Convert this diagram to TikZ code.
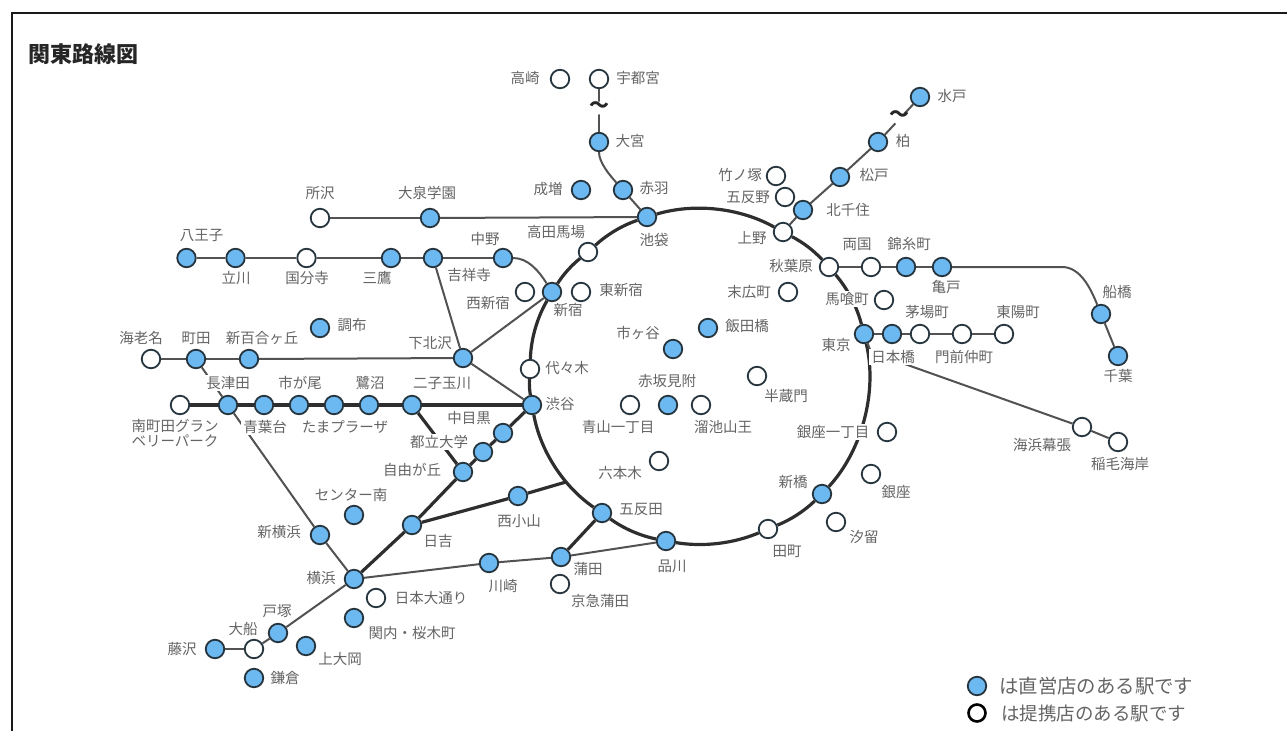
\documentclass[tikz,border=0pt]{standalone}
\usepackage{fontspec}
\setmainfont{Noto Sans CJK JP}
\usetikzlibrary{backgrounds}
\definecolor{stblue}{RGB}{108,184,240}
\definecolor{stline}{RGB}{38,52,62}
\definecolor{lbl}{RGB}{100,100,100}
\tikzset{
  stbase/.style={circle,draw=stline,line width=1.8pt,minimum size=18.5pt,inner sep=0pt},
  bst/.style={stbase,fill=stblue},
  wst/.style={stbase,fill=white},
  lb/.style={text=lbl,inner sep=1pt,font=\fontsize{14.5}{16}\selectfont},
  lbw/.style={lb,fill=white,inner xsep=2pt,inner ysep=1pt},
  thin line/.style={draw=black!68,line width=2pt},
  thick line/.style={draw=black!82,line width=3.2pt},
  wave/.style={inner sep=0pt,text height=7pt,text depth=1pt,font=\fontsize{20}{20}\selectfont\bfseries,text=black!85},
  wavegap/.style={circle,fill=white,minimum size=13pt,inner sep=0pt},
}
\begin{document}
\begin{tikzpicture}[x=1pt,y=-1pt]
\useasboundingbox (0,0) rectangle (1287,731);
\coordinate (fa) at (12,731);
\coordinate (fb) at (12,13);
\coordinate (fc) at (1287,13);
\draw[black!90,line width=2pt] (fa) -- (fb) -- (fc);
\node[anchor=center,inner sep=0pt,font=\fontsize{22}{24}\selectfont\bfseries,text=black!85] (title) at (83,54) {関東路線図};

% blue stations
\foreach \n/\x/\y in {hachioji/186.5/258,tachikawa/235.5/258,mitaka/391/258,kichijoji/433/258,nakano/503/258,
  oizumi/430/218,chofu/320/328,machida/196/359,shinyuri/249/359,shimokita/463/358,
  nagatsuta/228/405,aoba/264/405,ichigao/299/405,tama/334/405,sagi/369/405,futako/412/405,
  shibuya/532/405,nakame/503/433,toritsu/483/452,jiyu/463/472,hiyoshi/412/525,nishikoyama/518/496,
  shinyoko/320/535,center/354/515,yokohama/354/579,kawasaki/489/563,kannai/354/618,totsuka/278/633,
  kamiooka/306/646,fujisawa/215/649,kamakura/254/678,kamata/561/557,gotanda/602/513,shinagawa/666/541,
  shimbashi/822/494,tokyo/864/334,nihombashi/892/334,ichigaya/673/349,iidabashi/708/328,akasaka/668/405,
  shinjuku/552/292,ikebukuro/647/217,akabane/623/190,narimasu/581/190,omiya/599/142,
  kitasenju/803/210,matsudo/840/177,kashiwa/878/142,mito/920/97,kinshicho/906/267,kameido/942/267,
  funabashi/1101/314,chiba/1118/356}
  \node[bst] (\n) at (\x,\y) {};
% white stations
\foreach \n/\x/\y in {kokubunji/306.5/258,tokorozawa/320/218,ebina/151/359,minamimachida/180/405,
  takadanobaba/588/252,nishishinjuku/525/292,higashishinjuku/581/292,yoyogi/530/369,
  takasaki/560/79,utsunomiya/599/79,takenotsuka/776/176,gotanno/785/197,ueno/783/232,akihabara/829/267,
  suehirocho/788/292,ryogoku/871/267,bakurocho/884/300,kayabacho/920/334,monzen/962/334,toyocho/1004/334,
  makuhari/1082/427,inage/1118/442,hanzomon/757/376,aoyama/630/405,tameike/701/405,roppongi/659/461,
  ginza1/887/432,ginza/871/474,shiodome/836/522,tamachi/768/529,keikyu/560/584,nihonodori/376/598,ofuna/254/649}
  \node[wst] (\n) at (\x,\y) {};

\coordinate (ringjoin) at (566,482);
\coordinate (keiyobend) at (871,352);

\begin{scope}[on background layer]
  % ring
  \foreach \a/\b/\t in {ikebukuro/ueno/23,ueno/akihabara/9.75,akihabara/tokyo/12.85,tokyo/shimbashi/28,
    shimbashi/tamachi/10.7,tamachi/shinagawa/16,shinagawa/gotanda/12,gotanda/shibuya/22.6,
    shibuya/yoyogi/6.2,yoyogi/shinjuku/14,shinjuku/takadanobaba/9,takadanobaba/ikebukuro/11.8}
    \draw[thick line] (\a) to[bend left=\t,looseness=0.85] (\b);
  % thick straight lines
  \foreach \a/\b in {minamimachida/nagatsuta,nagatsuta/aoba,aoba/ichigao,ichigao/tama,tama/sagi,sagi/futako,futako/shibuya,
    futako/jiyu,shibuya/nakame,nakame/toritsu,toritsu/jiyu,jiyu/hiyoshi,hiyoshi/yokohama,
    hiyoshi/nishikoyama,nishikoyama/ringjoin,gotanda/kamata}
    \draw[thick line] (\a) -- (\b);
  % thin straight lines
  \foreach \a/\b in {hachioji/tachikawa,tachikawa/kokubunji,kokubunji/mitaka,mitaka/kichijoji,kichijoji/nakano,
    kichijoji/shimokita,shimokita/shinjuku,shimokita/shibuya,ebina/machida,machida/shinyuri,shinyuri/shimokita,
    tokorozawa/oizumi,oizumi/ikebukuro,machida/nagatsuta,nagatsuta/shinyoko,shinyoko/yokohama,
    yokohama/kawasaki,kawasaki/kamata,kamata/shinagawa,yokohama/totsuka,totsuka/ofuna,ofuna/fujisawa,
    utsunomiya/omiya,akabane/ikebukuro,ueno/kitasenju,kitasenju/matsudo,matsudo/kashiwa,kashiwa/mito,
    akihabara/ryogoku,ryogoku/kinshicho,kinshicho/kameido,funabashi/chiba,
    tokyo/nihombashi,nihombashi/kayabacho,kayabacho/monzen,monzen/toyocho,
    tokyo/keiyobend,keiyobend/makuhari,makuhari/inage}
    \draw[thin line] (\a) -- (\b);
  \draw[thin line] (nakano) to[out=0,in=122,looseness=0.9] (shinjuku);
  \draw[thin line] (omiya) to[out=-90,in=132,looseness=0.75] (akabane);
  \draw[thin line] (kameido) -- (1062,267) to[out=0,in=112,looseness=0.9] (funabashi);
\end{scope}

\node[wavegap] (gap1) at (599,108) {};
\node[wavegap] (gap2) at (899,118) {};
\node[wave] (wave1) at (599,109) {〜};
\node[wave] (wave2) at (899,118) {〜};

% labels
\foreach \n/\x/\y/\t in {l1/201.5/235/八王子,l2/236/278/立川,l3/307/278/国分寺,l4/377/278/三鷹,l5/485/239/中野,
  l6/469/275/吉祥寺,l7/488/303/西新宿,l8/568/310/新宿,l9/556/232/高田馬場,l10/427/193/大泉学園,l11/320/193/所沢,
  l12/548/189/成増,l13/352/325/調布,l14/141/338/海老名,l15/196/338/町田,l16/262/338/新百合ヶ丘,l17/430/343/下北沢,
  l19/300/383/市が尾,l20/370/383/鷺沼,l21/442/383/二子玉川,l24/345/427/たまプラーザ,
  l26/412/470/自由が丘,l27/351/495/センター南,l28/279/532/新横浜,l29/438/541/日吉,l30/519/521/西小山,
  l31/503/586/川崎,l32/321/578/横浜,l33/431/598/日本大通り,l34/277/611/戸塚,l35/243/629/大船,l36/182/649/藤沢,
  l37/412/633/関内・桜木町,l38/340/659/上大岡,l39/285/678/鎌倉,l40/588/569/蒲田,l41/600/601/京急蒲田,l42/672/566/品川,
  l43/787/551/田町,l44/864/537/汐留,l45/793/482/新橋,l46/896/492/銀座,l48/641/509/五反田,l49/620/473/六本木,
  l50/618/427/青山一丁目,l51/723/427/溜池山王,l52/667/381/赤坂見附,l53/786/396/半蔵門,l54/638/333/市ヶ谷,
  l55/747/326/飯田橋,l56/836/345/東京,l57/567/368/代々木,l58/560/404/渋谷,l59/525/78/高崎,l60/638/78/宇都宮,
  l61/630/141/大宮,l62/654/188/赤羽,l63/654/240/池袋,l64/740/175/竹ノ塚,l65/748/197/五反野,l66/848/210/北千住,
  l67/752/238/上野,l68/621/290/東新宿,l69/791/266/秋葉原,l70/749/292/末広町,l71/857/244/両国,l72/909/244/錦糸町,
  l73/946/287/亀戸,l75/927/312/茅場町,l76/1018/312/東陽町,l78/964/357/門前仲町,
  l79/1117/292/船橋,l80/1118/376/千葉,l81/1042/445/海浜幕張,l82/1120/464/稲毛海岸,l83/952/96/水戸,l84/903/141/柏,l85/874/175/松戸}
  \node[lb] (\n) at (\x,\y) {\t};
% labels that mask the line behind them
\foreach \n/\x/\y/\t in {w1/228/383/長津田,w2/265/427/青葉台,w3/469/418/中目黒,w4/439/442/都立大学,
  w5/847/299/馬喰町,w6/893/357/日本橋,w7/833/432/銀座一丁目}
  \node[lbw] (\n) at (\x,\y) {\t};
\node[lb,align=center,font=\fontsize{14.5}{14.5}\selectfont] (l25) at (175,433) {南町田グラン\\ベリーパーク};

% legend
\node[bst] (key1) at (977,686) {};
\node[stbase,fill=white,draw=black,line width=2.6pt,minimum size=17pt] (key2) at (977,713) {};
\node[lb,anchor=west,inner sep=0pt,font=\fontsize{19.4}{20}\selectfont] (key1t) at (999,686) {は直営店のある駅です};
\node[lb,anchor=west,inner sep=0pt,font=\fontsize{18.5}{20}\selectfont] (key2t) at (1001,713) {は提携店のある駅です};
\end{tikzpicture}
\end{document}
